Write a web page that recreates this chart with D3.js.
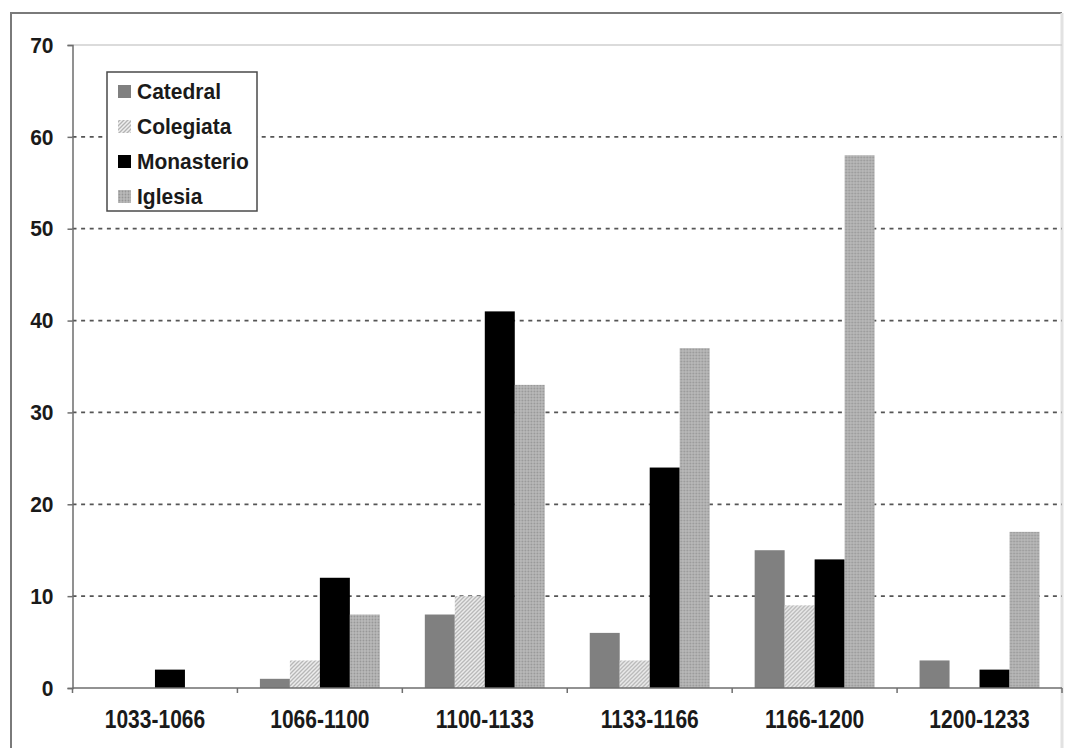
<!DOCTYPE html>
<html>
<head>
<meta charset="utf-8">
<script src="https://cdn.jsdelivr.net/npm/d3@7"></script>
<style>
  html, body { margin: 0; padding: 0; background: #fff; }
  svg { display: block; }
  text { font-family: "Liberation Sans", Arial, sans-serif; font-weight: bold; fill: #1a1a1a; }
  .stretch { transform-box: fill-box; transform-origin: center; }
</style>
</head>
<body>
<svg id="chart" width="1074" height="748"></svg>
<script>
// Periods (33-year spans) and building types
const categories = ["1033-1066", "1066-1100", "1100-1133", "1133-1166", "1166-1200", "1200-1233"];
const seriesNames = ["Catedral", "Colegiata", "Monasterio", "Iglesia"];

// Counts per period for each building type
const catedral   = [0, 1, 8, 6, 15, 3];
const colegiata  = [0, 3, 10, 3, 9, 0];
const monasterio = [2, 12, 41, 24, 14, 2];
const iglesia    = [0, 8, 33, 37, 58, 17];

const yTickValues = [0, 10, 20, 30, 40, 50, 60, 70];

const seriesValues = [catedral, colegiata, monasterio, iglesia];

const svg = d3.select("#chart");
const W = 1074, H = 748;

svg.append("rect").attr("width", W).attr("height", H).attr("fill", "#fff");

// Fill patterns
const defs = svg.append("defs");
const hatch = defs.append("pattern")
  .attr("id", "hatch").attr("patternUnits", "userSpaceOnUse")
  .attr("width", 4).attr("height", 4);
hatch.append("rect").attr("width", 4).attr("height", 4).attr("fill", "#efefef");
hatch.append("path").attr("d", "M-1,1 l2,-2 M0,4 l4,-4 M3,5 l2,-2")
  .attr("stroke", "#b4b4b4").attr("stroke-width", 1.3);

const checker = defs.append("pattern")
  .attr("id", "checker").attr("patternUnits", "userSpaceOnUse")
  .attr("width", 3).attr("height", 3);
checker.append("rect").attr("width", 3).attr("height", 3).attr("fill", "#b9b9b9");
checker.append("circle").attr("cx", 1.5).attr("cy", 1.5).attr("r", 0.9).attr("fill", "#969696");

const fills = ["#808080", "url(#hatch)", "#000000", "url(#checker)"];

// Outer frame
svg.append("path").attr("d", "M11,748 V13 H1062")
  .attr("fill", "none").attr("stroke", "#7a7a7a").attr("stroke-width", 2);
svg.append("line").attr("x1", 1062).attr("x2", 1062).attr("y1", 13).attr("y2", 748)
  .attr("stroke", "#e2e2e2").attr("stroke-width", 3);

// Scales
const plotLeft = 72.5, plotRight = 1062, plotTop = 45, plotBottom = 688;
const x0 = d3.scaleBand().domain(categories).range([plotLeft, plotRight])
  .paddingInner(1.5 / 5.5).paddingOuter(0.75 / 5.5);
const x1 = d3.scaleBand().domain(seriesNames).range([0, x0.bandwidth()]).padding(0);
const y = d3.scaleLinear().domain([0, 70]).range([plotBottom, plotTop]);

// Top edge of plot area
svg.append("line").attr("x1", plotLeft).attr("x2", plotRight)
  .attr("y1", y(70)).attr("y2", y(70))
  .attr("stroke", "#cfcfcf").attr("stroke-width", 1.5);

// Dotted gridlines
svg.append("g").selectAll("line")
  .data(yTickValues.filter(v => v > 0 && v < 70))
  .join("line")
  .attr("x1", plotLeft).attr("x2", plotRight)
  .attr("y1", d => y(d)).attr("y2", d => y(d))
  .attr("stroke", "#555").attr("stroke-width", 1.8)
  .attr("stroke-dasharray", "4,4.6");

// Bars
const groups = svg.append("g").selectAll("g")
  .data(categories)
  .join("g")
  .attr("transform", d => `translate(${x0(d)},0)`);

groups.selectAll("rect")
  .data((d, i) => seriesNames.map((s, j) => ({ s, j, v: seriesValues[j][i] })))
  .join("rect")
  .attr("x", d => x1(d.s))
  .attr("width", x1.bandwidth())
  .attr("y", d => y(d.v))
  .attr("height", d => y(0) - y(d.v))
  .attr("fill", d => fills[d.j]);

// Y axis
const yAxis = d3.axisLeft(y).tickValues(yTickValues).tickSize(5).tickPadding(14);
const gy = svg.append("g").attr("transform", `translate(${plotLeft},0)`).call(yAxis);
gy.select(".domain").attr("stroke", "#6e6e6e").attr("stroke-width", 1.5);
gy.selectAll(".tick line").attr("stroke", "#6e6e6e").attr("stroke-width", 1.5);
gy.selectAll(".tick text").style("font-size", "21px")
  .style("font-family", "'Liberation Sans', Arial, sans-serif")
  .style("font-weight", "bold").attr("fill", "#1a1a1a")
  .attr("class", "stretch").style("transform", "scaleY(1.06)");

// X axis: labels centred on groups, tick marks at category boundaries
const xAxis = d3.axisBottom(x0).tickSize(0).tickPadding(24);
const gx = svg.append("g").attr("transform", `translate(0,${plotBottom})`).call(xAxis);
gx.select(".domain").remove();
gx.selectAll(".tick text").style("font-size", "21px")
  .style("font-family", "'Liberation Sans', Arial, sans-serif")
  .style("font-weight", "bold").attr("fill", "#1a1a1a")
  .attr("class", "stretch").style("transform", "scaleY(1.2)");

svg.append("line").attr("x1", plotLeft).attr("x2", plotRight)
  .attr("y1", plotBottom).attr("y2", plotBottom)
  .attr("stroke", "#6e6e6e").attr("stroke-width", 1.5);
const boundaries = d3.range(categories.length + 1).map(i => plotLeft + i * x0.step());
svg.append("g").selectAll("line")
  .data(boundaries)
  .join("line")
  .attr("x1", d => d).attr("x2", d => d)
  .attr("y1", plotBottom).attr("y2", plotBottom + 5)
  .attr("stroke", "#6e6e6e").attr("stroke-width", 1.5);

// Legend
const legend = svg.append("g").attr("transform", "translate(107,72)");
legend.append("rect").attr("width", 150).attr("height", 139)
  .attr("fill", "#fff").attr("stroke", "#4a4a4a").attr("stroke-width", 1.5);
const items = legend.selectAll("g.item")
  .data(seriesNames)
  .join("g").attr("class", "item")
  .attr("transform", (d, i) => `translate(11,${19 + i * 35})`);
items.append("rect").attr("x", 0).attr("y", -6).attr("width", 13).attr("height", 13)
  .attr("fill", (d, i) => fills[i]);
items.append("text").attr("x", 19).attr("y", 0).attr("dy", "0.36em")
  .attr("class", "stretch").style("transform", "scaleY(1.08)")
  .style("font-size", "21px").text(d => d);
</script>
</body>
</html>
